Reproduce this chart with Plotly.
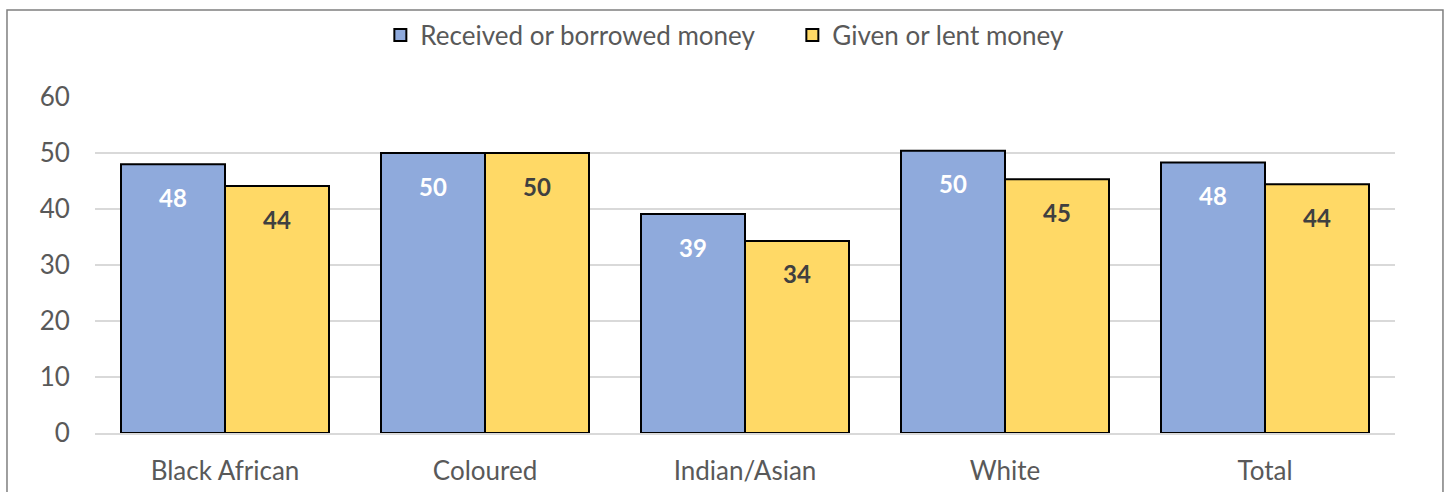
import plotly.graph_objects as go

categories = ["Black African", "Coloured", "Indian/Asian", "White", "Total"]
received = [48.0, 50.0, 39.1, 50.4, 48.3]
given = [44.1, 50.0, 34.3, 45.3, 44.4]
series_names = ["Received or borrowed money", "Given or lent money"]
y_ticks = [0, 10, 20, 30, 40, 50, 60]

BLUE = "#8faadc"
YELLOW = "#ffd966"
GRID = "#d9d9d9"
TEXT = "#595959"
FONT = "Lato"

fig = go.Figure()
for name, vals, color in [(series_names[0], received, BLUE), (series_names[1], given, YELLOW)]:
    fig.add_trace(go.Bar(
        x=categories, y=vals, name=name,
        marker=dict(color=color, line=dict(color="#000000", width=2)),
    ))

# value labels sitting just below each bar top
for vals, shift, col in [(received, -52, "#ffffff"), (given, 52, "#404040")]:
    for c, v in zip(categories, vals):
        fig.add_annotation(
            x=c, y=v, text=f"{round(v)}", showarrow=False,
            xshift=shift, yshift=-33, yanchor="middle",
            font=dict(family=FONT, size=24, color=col, weight="bold"),
        )

# outer frame
fig.add_shape(type="rect", xref="paper", yref="paper",
              x0=-0.0677, x1=1.0369, y0=-0.3, y1=1.2589,
              line=dict(color="#7f7f7f", width=1.5), fillcolor="rgba(0,0,0,0)", layer="below")

fig.update_layout(
    width=1451, height=492,
    margin=dict(l=95, r=56, t=97, b=59),
    paper_bgcolor="white", plot_bgcolor="white",
    barmode="group", bargap=0.2, bargroupgap=0,
    font=dict(family=FONT, color=TEXT),
    legend=dict(orientation="h", x=0.2195, xanchor="left", y=1.1845, yanchor="middle",
                font=dict(family=FONT, size=26, color=TEXT), itemclick=False,
                traceorder="normal", itemwidth=30, entrywidth=367, entrywidthmode="pixels"),
    showlegend=True,
)
fig.update_xaxes(
    automargin=False,
    showgrid=False, showline=True, linecolor=GRID, linewidth=2,
    ticks="outside", ticklen=14, tickcolor="rgba(0,0,0,0)",
    tickfont=dict(family=FONT, size=26, color=TEXT),
)
fig.update_yaxes(
    automargin=False,
    range=[0, 60], tickvals=y_ticks, showgrid=True, gridcolor=GRID, gridwidth=1.5,
    zeroline=False, showline=False,
    ticks="outside", ticklen=19, tickcolor="rgba(0,0,0,0)",
    tickfont=dict(family=FONT, size=26, color=TEXT),
)

fig.write_html("out.html")
